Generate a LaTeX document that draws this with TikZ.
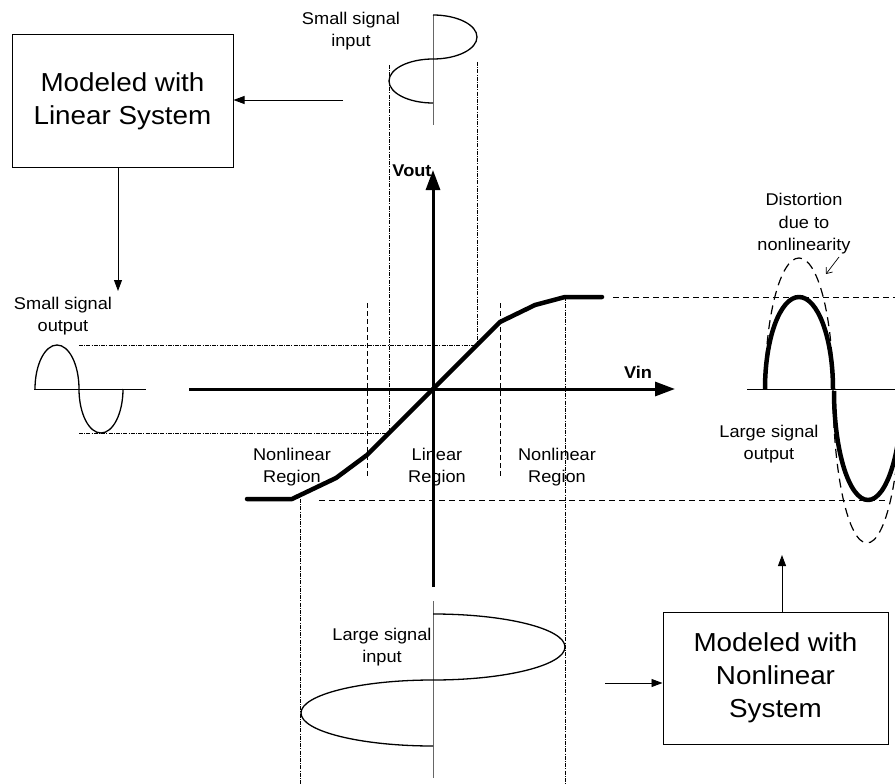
\documentclass[tikz,border=0pt]{standalone}
\usepackage{fontspec}
\setmainfont[FakeStretch=1.07]{Liberation Sans}
\usetikzlibrary{arrows.meta}
\begin{document}
\begin{tikzpicture}[x=1pt,y=-1pt,
  lbl/.style={align=center,inner sep=0pt,font=\fontsize{17}{22.5}\selectfont},
  axlbl/.style={inner sep=0pt,font=\fontsize{17}{20}\selectfont\bfseries},
  boxtxt/.style={draw,line width=1pt,align=center,inner sep=0pt,font=\fontsize{26}{33}\selectfont},
  conn/.style={line width=0.9pt,-{Triangle[length=11pt,width=8pt]}},
  barb/.style={line width=0.7pt,-{Straight Barb[length=5pt,width=8pt]}},
  axisln/.style={line width=3pt,-{Triangle[length=20pt,width=14pt]}},
  tcurve/.style={line width=4.5pt,line join=round,line cap=round},
  sepln/.style={dash pattern=on 5pt off 3pt,line width=0.8pt},
  ddln/.style={dash pattern=on 4pt off 1.2pt on 1pt off 1.2pt,line width=0.8pt},
  levelln/.style={dash pattern=on 6pt off 4pt,line width=0.9pt},
  sigln/.style={line width=1.3pt},
  gaxis/.style={line width=1pt,gray!80!black},
  ideal/.style={dash pattern=on 9pt off 6pt,line width=1.2pt},
]
\clip (0,0) rectangle (895,784);
\fill[white] (0,0) rectangle (895,784);

% ---------- guide lines ----------
\draw[ddln] (79,345) -- (477,345);
\draw[ddln] (79,433) -- (389,433);
\draw[ddln] (389,65) -- (389,433);
\draw[ddln] (477,62) -- (477,345);
\draw[ddln] (300,499) -- (300,784);
\draw[ddln] (565,297) -- (565,784);
\draw[sepln] (367,303) -- (367,478);
\draw[sepln] (500,303) -- (500,478);
\draw[levelln] (613,297) -- (895,297);
\draw[levelln] (319,500) -- (888,500);

% ---------- axes ----------
\coordinate (vinL) at (189,389);
\coordinate (vinR) at (675,389);
\coordinate (voutB) at (433,587);
\coordinate (voutT) at (433,170);
\draw[axisln] (vinL) -- (vinR);
\draw[axisln] (voutB) -- (voutT);
\node[axlbl] (vout) at (412,171) {Vout};
\node[axlbl] (vin) at (638,372) {Vin};

% ---------- transfer curve ----------
\draw[tcurve] (247,499) -- (292,499) -- (336,478) -- (367,455) -- (433,389)
  -- (500,322) -- (535,305) -- (565,297) -- (602,297);

% ---------- region labels ----------
\node[lbl] (nl1) at (292,467) {Nonlinear\\Region};
\node[lbl] (lin) at (437,467) {Linear\\Region};
\node[lbl] (nl2) at (557,467) {Nonlinear\\Region};

% ---------- small signal input ----------
\draw[gaxis] (433,15) -- (433,125);
\draw[sigln] (433,15) arc[start angle=-90,end angle=90,x radius=44,y radius=22]
  arc[start angle=270,end angle=90,x radius=44,y radius=22];
\node[lbl] (ssinlbl) at (351,31) {Small signal\\input};

% ---------- small signal output ----------
\draw[line width=0.9pt] (34,389) -- (146,389);
\draw[sigln] (35,389) arc[start angle=180,end angle=360,x radius=22,y radius=44]
  arc[start angle=180,end angle=0,x radius=22,y radius=44];
\node[lbl] (ssoutlbl) at (63,316) {Small signal\\output};

% ---------- large signal input ----------
\draw[gaxis] (433,601) -- (433,778);
\draw[sigln] (433,614) arc[start angle=-90,end angle=90,x radius=132,y radius=33]
  arc[start angle=270,end angle=90,x radius=132,y radius=33];
\node[lbl] (lsinlbl) at (382,647) {Large signal\\input};

% ---------- large signal output ----------
\draw[line width=0.9pt] (747,389) -- (895,389);
\draw[ideal] (765,389) arc[start angle=180,end angle=360,x radius=34,y radius=131];
\draw[ideal] (833,389) arc[start angle=180,end angle=0,x radius=34,y radius=154];
\draw[tcurve,line cap=butt] (765,389) arc[start angle=180,end angle=360,x radius=34,y radius=92];
\draw[tcurve,line cap=butt] (834,391) arc[start angle=180,end angle=0,x radius=34,y radius=109];
\node[lbl] (lsoutlbl) at (769,444) {Large signal\\output};
\node[lbl] (dist) at (804,224) {Distortion\\due to\\nonlinearity};
\coordinate (distA) at (839,257);
\coordinate (distB) at (826,274);
\draw[barb] (distA) -- (distB);

% ---------- boxes ----------
\node[boxtxt,minimum width=221pt,minimum height=132pt] (box1) at (122.5,101) {Modeled with\\Linear System};
\node[boxtxt,minimum width=225pt,minimum height=132pt] (box2) at (775.5,678) {Modeled with\\Nonlinear\\System};

\coordinate (inS) at (343,100);
\draw[conn] (inS) -- (inS -| box1.east);
\coordinate (outS) at (118,291);
\draw[conn] (outS |- box1.south) -- (outS);
\coordinate (inL) at (605,683);
\draw[conn] (inL) -- (inL -| box2.west);
\coordinate (outL) at (782,555);
\draw[conn] (outL |- box2.north) -- (outL);
\end{tikzpicture}
\end{document}
